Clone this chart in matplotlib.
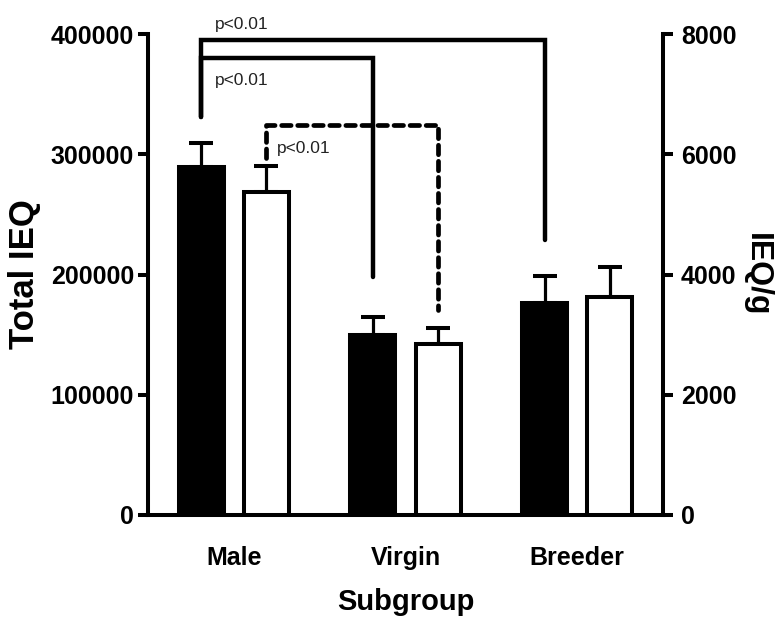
import numpy as np
import matplotlib
matplotlib.use('Agg')
import matplotlib.pyplot as plt

plt.rcParams['font.family'] = ['Liberation Sans', 'DejaVu Sans']

groups = ['Male', 'Virgin', 'Breeder']
total_ieq = [289000, 150000, 176000]       # black bars, left axis
total_sem = [20000, 15000, 22500]
ieq_per_g = [5370, 2840, 3630]             # white bars, right axis
ieq_per_g_sem = [430, 270, 500]

# brackets: (group a, bar a, group b, bar b, level, end a, end b, dashed)
# bar 0 = black, 1 = white; heights in Total IEQ units
brackets = [
    (0, 0, 2, 0, 395000, 331000, 228700, False),
    (0, 0, 1, 0, 380000, 331000, 198000, False),
    (0, 1, 1, 1, 324000, 297000, 170500, True),
]
p_labels = ['p<0.01', 'p<0.01', 'p<0.01']
p_label_pos = [(0.0, 408000), (0.0, 361700), (0.36, 305000)]

x = np.arange(len(groups))
off = 0.19
w = 0.262
lw = 2.9

fig = plt.figure(figsize=(7.76, 6.2), dpi=100)
ax = fig.add_axes([148/776, 105/620, 515/776, 481/620])
ax2 = ax.twinx()

ax.bar(x - off, total_ieq, w, color='black', edgecolor='black', linewidth=lw, zorder=3)
ax.errorbar(x - off, total_ieq, yerr=[np.zeros(3), total_sem], fmt='none', ecolor='black',
            elinewidth=2.3, capsize=8.5, capthick=2.9, zorder=2)
ax2.bar(x + off, ieq_per_g, w, color='white', edgecolor='black', linewidth=lw, zorder=3)
ax2.errorbar(x + off, ieq_per_g, yerr=[np.zeros(3), ieq_per_g_sem], fmt='none', ecolor='black',
             elinewidth=2.3, capsize=8.5, capthick=2.9, zorder=2)

ax.set_xlim(-0.5, 2.5)
ax.set_ylim(0, 400000)
ax2.set_ylim(0, 8000)
ax.set_yticks([0, 100000, 200000, 300000, 400000])
ax2.set_yticks([0, 2000, 4000, 6000, 8000])

for a in (ax, ax2):
    a.spines['top'].set_visible(False)
    for s in a.spines.values():
        s.set_linewidth(lw)
    a.tick_params(axis='y', length=7, width=lw, direction='out', labelsize=18)
ax.spines['right'].set_visible(False)
ax2.spines['left'].set_visible(False)
ax2.spines['bottom'].set_visible(False)
ax.tick_params(axis='y', pad=3)
ax2.tick_params(axis='y', pad=6)

ax.set_xticks(x)
ax.set_xticklabels(groups)
ax.tick_params(axis='x', length=0, pad=22, labelsize=18)

for lab in ax.get_yticklabels() + ax2.get_yticklabels() + ax.get_xticklabels():
    lab.set_fontweight('bold')

ax.set_xlabel('Subgroup', weight='bold', size=21, labelpad=13)
ax.set_ylabel('Total IEQ', weight='bold', size=25, va='center')
ax.yaxis.set_label_coords(-0.239, 0.5)
ax2.set_ylabel('IEQ/g', weight='bold', size=23, rotation=270, va='center')
ax2.yaxis.set_label_coords(1.183, 0.5)

for (ga, ba, gb, bb, level, ea, eb, dashed) in brackets:
    xa = x[ga] + (off if ba else -off)
    xb = x[gb] + (off if bb else -off)
    style = dict(color='black', linewidth=3.2, clip_on=False, zorder=4,
                 solid_capstyle='round', solid_joinstyle='miter')
    if dashed:
        style.update(linestyle=(0, (2.0, 1.4)), linewidth=3.4, dash_capstyle='round')
    ax.plot([xa, xa, xb, xb], [ea, level, level, eb], **style)

for txt, (px, py) in zip(p_labels, p_label_pos):
    ax.text(px - off + 0.08, py, txt, size=12.5,
            ha='left', va='center', color='#222222', clip_on=False)

fig.savefig('out.png', dpi=100)
